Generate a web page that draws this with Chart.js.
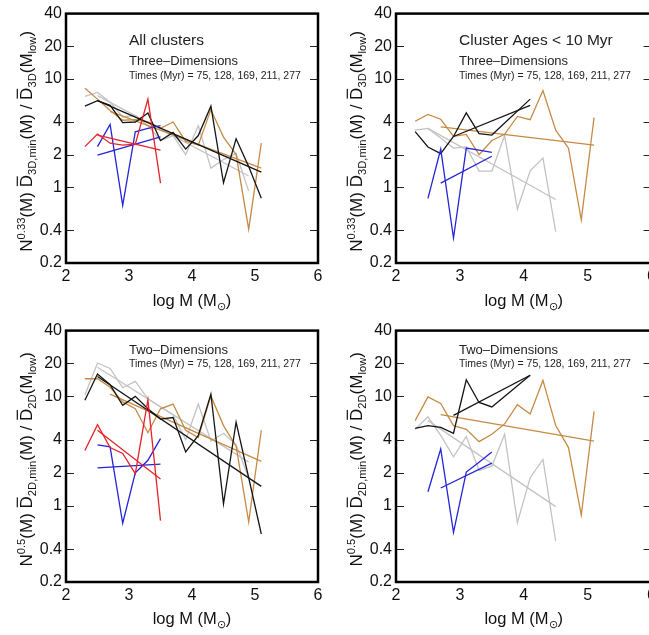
<!DOCTYPE html>
<html>
<head>
<meta charset="utf-8">
<script src="https://cdn.jsdelivr.net/npm/chart.js@4.4.1/dist/chart.umd.min.js"></script>
<style>
  html, body { margin: 0; padding: 0; background: #fff; overflow: hidden; }
  body { width: 649px; height: 635px; position: relative; }
  canvas { position: absolute; }
</style>
</head>
<body>
<canvas id="all3d" width="330" height="317" style="left:0;top:0"></canvas>
<canvas id="young3d" width="330" height="317" style="left:330px;top:0"></canvas>
<canvas id="all2d" width="330" height="318" style="left:0;top:317px"></canvas>
<canvas id="young2d" width="330" height="318" style="left:330px;top:317px"></canvas>
<script>
// log M grid shared by every curve
const logMass = [2.3, 2.5, 2.7, 2.9, 3.1, 3.3, 3.5, 3.7, 3.9, 4.1, 4.3, 4.5, 4.7, 4.9, 5.1];
const xTicks = [2, 3, 4, 5, 6];
const yTicks = [0.2, 0.4, 1, 2, 4, 10, 20, 40];
const timesLabel = 'Times (Myr) = 75, 128, 169, 211, 277';

// all clusters, 3D
const all3dBlack = [5.6, 6.3, 5.7, 3.95, 4.0, 4.85, 2.7, 3.2, 2.25, 3.0, 5.6, 1.1, 2.8, 1.55, 0.79];
const all3dGray = [6.9, 7.5, 6.1, 4.45, 4.6, 3.7, 2.7, 3.0, 2.0, 3.7, 1.5, 1.8, 2.05, 0.92, null];
const all3dBrown = [8.2, 6.5, 5.1, 4.15, 4.2, 4.0, 3.5, 4.0, 2.65, 2.45, 5.2, 2.9, 2.0, 0.41, 2.55];
const all3dRed = [2.37, 3.1, 2.55, 2.45, 2.5, 6.5, 1.09];
const all3dBlue = [null, 2.37, 3.8, 0.68, 3.25, 3.5, 3.7];

// cluster ages < 10 Myr, 3D
const young3dBlack = [3.26, 2.35, 2.04, 2.94, 4.85, 3.13, 3.03, null, null, 6.5];
const young3dGray = [3.37, 3.49, 2.85, 2.3, 2.36, 1.41, 1.41, 3.0, 0.63, 1.42, 1.86, 0.39];
const young3dBrown = [4.06, 4.7, 4.24, 2.95, 3.07, 2.0, 2.7, 3.08, 4.5, 4.2, 7.8, 3.36, 2.29, 0.5, 4.4];
const young3dBlue = [null, 0.79, 2.25, 0.34, 2.3, 2.2, 2.1];

// all clusters, 2D
const all2dBlack = [9.2, 16.0, 12.8, 8.3, 10.0, 7.7, 6.2, 6.4, 3.1, 4.4, 10.5, 1.04, 5.8, 1.8, 0.55];
const all2dGray = [10.3, 20.2, 18.0, 12.0, 13.7, 9.5, 8.0, 6.8, 4.0, 8.5, 3.9, 4.6, 3.6, 1.8, null];
const all2dBrown = [14.5, 14.5, 12.1, 8.9, 7.7, 4.65, 7.7, 8.5, 4.9, 4.2, 10.1, 5.4, 3.5, 0.71, 4.9];
const all2dRed = [3.2, 5.5, 3.4, 3.0, 1.96, 9.3, 0.73];
const all2dBlue = [null, 3.6, 3.45, 0.69, 2.0, 2.6, 4.1];

// cluster ages < 10 Myr, 2D
const young2dBlack = [5.1, 5.4, 5.2, 4.6, 14.2, 8.8, 8.0, null, null, 15.6];
const young2dGray = [5.0, 6.5, 4.4, 2.8, 4.3, 2.1, 2.3, 4.5, 0.7, 1.8, 2.65, 0.47];
const young2dBrown = [6.0, 9.9, 8.6, 5.4, 5.0, 3.85, 4.5, 5.6, 8.4, 6.9, 14.0, 5.4, 3.4, 0.82, 7.3];
const young2dBlue = [null, 1.34, 3.3, 0.57, 2.03, 2.5, 3.1];

// straight fits: [logM start, value start, logM end, value end]
const all3dFitBlack = [2.5, 6.3, 5.1, 1.38];
const all3dFitGray = [2.5, 7.0, 4.9, 1.27];
const all3dFitBrown = [2.7, 5.0, 5.1, 1.5];
const all3dFitRed = [2.5, 3.03, 3.5, 2.2];
const all3dFitBlue = [2.5, 1.98, 3.5, 2.92];

const young3dFitBlack = [2.9, 2.94, 4.1, 5.7];
const young3dFitGray = [2.5, 3.49, 4.5, 0.77];
const young3dFitBrown = [2.7, 3.6, 5.1, 2.45];
const young3dFitBlue = [2.7, 1.09, 3.5, 1.93];

const all2dFitBlack = [2.5, 15.2, 5.1, 1.5];
const all2dFitGray = [2.5, 18.5, 4.9, 2.5];
const all2dFitBrown = [2.7, 10.5, 5.1, 2.54];
const all2dFitRed = [2.5, 4.9, 3.5, 1.75];
const all2dFitBlue = [2.5, 2.22, 3.5, 2.4];

const young2dFitBlack = [2.9, 6.7, 4.1, 15.6];
const young2dFitGray = [2.5, 6.0, 4.5, 0.98];
const young2dFitBrown = [2.7, 6.8, 5.1, 3.9];
const young2dFitBlue = [2.7, 1.45, 3.5, 2.45];

const colors = { black: '#151515', gray: '#c3c3c3', brown: '#c68a45', red: '#e4232a', blue: '#2424d8' };
const family = '"Liberation Sans", Arial, sans-serif';

const title3d = [['N'], ['0.33', 'sup'], ['(M) '], ['D', 'bar'], ['3D,min', 'sub'], ['(M) / '], ['D', 'bar'], ['3D', 'sub'], ['(M'], ['low', 'sub'], [')']];
const title2d = [['N'], ['0.5', 'sup'], ['(M) '], ['D', 'bar'], ['2D,min', 'sub'], ['(M) / '], ['D', 'bar'], ['2D', 'sub'], ['(M'], ['low', 'sub'], [')']];
const xTitle = [['log M ('], ['M'], ['\u2299', 'sub'], [')']];

function curve(values, color) {
  return {
    data: logMass.map((m, i) => ({ x: m, y: values[i] })).filter((p) => p.y != null),
    borderColor: color,
  };
}

function fitLine(f, color) {
  return { data: [{ x: f[0], y: f[1] }, { x: f[2], y: f[3] }], borderColor: color };
}

// text with super/subscripts and overbars, centred on x, baseline y
function drawRich(ctx, parts, x, y, size) {
  const small = size * 0.66;
  const fontFor = (p) => (p[1] === 'sup' || p[1] === 'sub' ? small : size) + 'px ' + family;
  const widthOf = (p) => { ctx.font = fontFor(p); return ctx.measureText(p[0]).width; };
  const total = parts.reduce((s, p) => s + widthOf(p), 0);
  let cx = x - total / 2;
  ctx.textAlign = 'left';
  ctx.textBaseline = 'alphabetic';
  parts.forEach((p) => {
    const w = widthOf(p);
    let dy = 0;
    if (p[1] === 'sup') dy = -size * 0.42;
    if (p[1] === 'sub') dy = size * 0.25;
    ctx.fillText(p[0], cx, y + dy);
    if (p[1] === 'bar') ctx.fillRect(cx + w * 0.1, y - size * 0.9, w * 0.8, size * 0.07);
    cx += w;
  });
}

const framePlugin = {
  id: 'frame',
  afterDraw(chart, args, opts) {
    const { ctx, chartArea: a, scales } = chart;
    ctx.save();
    // inward ticks on both vertical sides
    ctx.strokeStyle = '#222';
    ctx.lineWidth = 1.2;
    yTicks.slice(1, -1).forEach((v) => {
      const y = Math.round(scales.y.getPixelForValue(v)) + 0.5;
      ctx.beginPath();
      ctx.moveTo(a.left, y); ctx.lineTo(a.left + 8, y);
      ctx.moveTo(a.right - 8, y); ctx.lineTo(a.right, y);
      ctx.stroke();
    });
    ctx.lineWidth = 2.5;
    ctx.strokeStyle = '#000';
    ctx.strokeRect(a.left, a.top, a.right - a.left, a.bottom - a.top);

    // panel notes
    ctx.fillStyle = '#222';
    ctx.textAlign = 'left';
    ctx.textBaseline = 'alphabetic';
    opts.notes.forEach((n) => {
      ctx.font = n.size + 'px ' + family;
      ctx.fillText(n.text, a.left + 63, n.y);
    });

    // axis titles
    ctx.fillStyle = '#111';
    drawRich(ctx, xTitle, (a.left + a.right) / 2, opts.xTitleY, 16.5);
    ctx.translate(32, (a.top + a.bottom) / 2 + 3);
    ctx.rotate(-Math.PI / 2);
    drawRich(ctx, opts.yTitle, 0, 0, 17);
    ctx.restore();
  },
};

function createPanel(id, cfg) {
  const tickFont = { family, size: 16 };
  return new Chart(document.getElementById(id), {
    type: 'line',
    data: { datasets: cfg.datasets },
    options: {
      responsive: false,
      animation: false,
      devicePixelRatio: 1,
      layout: { padding: { left: 0, top: cfg.top, right: cfg.right, bottom: 0 } },
      elements: {
        line: { borderWidth: 1.3, tension: 0, fill: false },
        point: { radius: 0 },
      },
      scales: {
        x: {
          type: 'linear', min: 2, max: 6,
          afterBuildTicks: (s) => { s.ticks = xTicks.map((v) => ({ value: v })); },
          afterFit: (s) => { s.height = cfg.xHeight; },
          ticks: { font: tickFont, color: '#111', padding: 4, maxRotation: 0 },
          grid: { display: false, drawTicks: false },
          border: { display: false },
        },
        y: {
          type: 'logarithmic', min: 0.2, max: 40,
          afterBuildTicks: (s) => { s.ticks = yTicks.map((v) => ({ value: v })); },
          afterFit: (s) => { s.width = 66; },
          ticks: { font: tickFont, color: '#111', padding: 4, callback: (v) => String(v) },
          grid: { display: false, drawTicks: false },
          border: { display: false },
        },
      },
      plugins: {
        legend: { display: false },
        tooltip: { enabled: false },
        frame: { notes: cfg.notes, yTitle: cfg.yTitle, xTitleY: cfg.xTitleY },
      },
    },
    plugins: [framePlugin],
  });
}

createPanel('all3d', {
  top: 10, right: 12, xHeight: 54, xTitleY: 306, yTitle: title3d,
  notes: [
    { text: 'All clusters', size: 15.5, y: 45 },
    { text: 'Three\u2013Dimensions', size: 13, y: 65 },
    { text: timesLabel, size: 10.5, y: 79 },
  ],
  datasets: [
    curve(all3dRed, colors.red), fitLine(all3dFitRed, colors.red),
    curve(all3dBlue, colors.blue), fitLine(all3dFitBlue, colors.blue),
    curve(all3dBlack, colors.black), fitLine(all3dFitBlack, colors.black),
    curve(all3dBrown, colors.brown), fitLine(all3dFitBrown, colors.brown),
    curve(all3dGray, colors.gray), fitLine(all3dFitGray, colors.gray),
  ],
});

createPanel('young3d', {
  top: 10, right: 8, xHeight: 54, xTitleY: 306, yTitle: title3d,
  notes: [
    { text: 'Cluster Ages < 10 Myr', size: 15.5, y: 45 },
    { text: 'Three\u2013Dimensions', size: 13, y: 65 },
    { text: timesLabel, size: 10.5, y: 79 },
  ],
  datasets: [
    curve(young3dBlue, colors.blue), fitLine(young3dFitBlue, colors.blue),
    curve(young3dBlack, colors.black), fitLine(young3dFitBlack, colors.black),
    curve(young3dBrown, colors.brown), fitLine(young3dFitBrown, colors.brown),
    curve(young3dGray, colors.gray), fitLine(young3dFitGray, colors.gray),
  ],
});

createPanel('all2d', {
  top: 13, right: 12, xHeight: 53, xTitleY: 307, yTitle: title2d,
  notes: [
    { text: 'Two\u2013Dimensions', size: 13, y: 37 },
    { text: timesLabel, size: 10.5, y: 49.5 },
  ],
  datasets: [
    curve(all2dRed, colors.red), fitLine(all2dFitRed, colors.red),
    curve(all2dBlue, colors.blue), fitLine(all2dFitBlue, colors.blue),
    curve(all2dBlack, colors.black), fitLine(all2dFitBlack, colors.black),
    curve(all2dBrown, colors.brown), fitLine(all2dFitBrown, colors.brown),
    curve(all2dGray, colors.gray), fitLine(all2dFitGray, colors.gray),
  ],
});

createPanel('young2d', {
  top: 13, right: 8, xHeight: 53, xTitleY: 307, yTitle: title2d,
  notes: [
    { text: 'Two\u2013Dimensions', size: 13, y: 37 },
    { text: timesLabel, size: 10.5, y: 49.5 },
  ],
  datasets: [
    curve(young2dBlue, colors.blue), fitLine(young2dFitBlue, colors.blue),
    curve(young2dBlack, colors.black), fitLine(young2dFitBlack, colors.black),
    curve(young2dBrown, colors.brown), fitLine(young2dFitBrown, colors.brown),
    curve(young2dGray, colors.gray), fitLine(young2dFitGray, colors.gray),
  ],
});
</script>
</body>
</html>
